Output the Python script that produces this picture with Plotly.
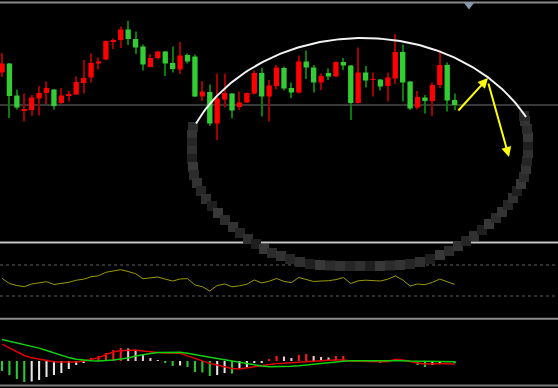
import math
import plotly.graph_objects as go

W, H = 558, 388

# ---------------- data ----------------
opens = [10.63, 10.81, 10.17, 9.87, 9.88, 10.11, 10.22, 10.29, 10.02, 10.17,
         10.19, 10.42, 10.53, 10.81, 10.89, 11.25, 11.28, 11.49, 11.30, 11.15,
         10.74, 10.92, 11.05, 10.82, 10.69, 10.98, 10.95, 10.15, 10.24, 9.61,
         10.09, 10.21, 9.94, 10.03, 10.21, 10.62, 10.15, 10.36, 10.72, 10.32,
         10.23, 10.85, 10.73, 10.43, 10.62, 10.55, 10.84, 10.77, 10.02, 10.63,
         10.48, 10.49, 10.36, 10.51, 11.04, 10.45, 9.93, 10.13, 10.06, 10.38,
         10.78, 10.08]
highs = [11.02, 10.82, 10.29, 10.21, 10.18, 10.36, 10.45, 10.30, 10.32, 10.26,
         10.55, 10.88, 11.01, 10.93, 11.27, 11.31, 11.55, 11.66, 11.45, 11.19,
         11.00, 11.06, 11.06, 11.15, 11.24, 11.01, 10.99, 10.46, 10.39, 10.61,
         10.61, 10.22, 10.25, 10.23, 10.67, 10.72, 10.48, 10.78, 10.75, 10.43,
         10.97, 11.07, 10.78, 10.61, 10.71, 10.85, 10.92, 10.78, 11.13, 10.76,
         10.63, 10.50, 10.63, 11.40, 11.19, 10.46, 10.26, 10.18, 10.43, 11.08,
         10.83, 10.21]
lows = [10.54, 9.72, 9.89, 9.65, 9.76, 9.77, 10.00, 9.89, 10.00, 10.05,
        10.18, 10.21, 10.43, 10.69, 10.88, 11.10, 11.12, 11.18, 11.00, 10.67,
        10.73, 10.89, 10.56, 10.63, 10.60, 10.81, 10.14, 10.06, 9.56, 9.28,
        9.93, 9.71, 9.88, 10.02, 10.19, 9.75, 9.65, 10.29, 10.27, 10.12,
        10.21, 10.50, 10.23, 10.28, 10.48, 10.54, 10.68, 9.68, 10.01, 10.33,
        10.15, 10.27, 10.05, 10.40, 10.05, 9.88, 9.89, 9.81, 9.76, 10.32,
        9.85, 9.88]
closes = [10.81, 10.16, 9.93, 9.89, 10.13, 10.22, 10.32, 9.96, 10.17, 10.20,
          10.44, 10.52, 10.82, 10.85, 11.26, 11.28, 11.49, 11.30, 11.13, 10.79,
          10.92, 11.05, 10.81, 10.70, 10.97, 10.85, 10.15, 10.25, 9.61, 10.11,
          10.22, 9.87, 10.03, 10.22, 10.62, 10.15, 10.37, 10.73, 10.31, 10.23,
          10.85, 10.73, 10.43, 10.56, 10.55, 10.84, 10.77, 10.02, 10.63, 10.47,
          10.50, 10.35, 10.53, 11.04, 10.43, 9.91, 10.14, 10.06, 10.38, 10.78,
          10.07, 9.98]
ref_price = 9.98

osc = [54.3, 44.2, 40.3, 38.0, 43.2, 46.1, 47.7, 42.3, 44.6, 46.5,
       50.6, 52.5, 57.2, 59.1, 65.9, 68.2, 70.9, 67.4, 63.2, 53.5,
       54.8, 56.8, 52.7, 49.0, 52.9, 53.7, 41.3, 38.0, 29.7, 40.3,
       43.2, 37.8, 39.7, 42.8, 51.0, 45.2, 48.6, 53.9, 48.3, 45.9,
       55.8, 52.3, 48.1, 49.0, 49.6, 51.7, 55.8, 44.2, 49.4, 50.6,
       49.2, 49.0, 52.5, 58.9, 51.0, 39.4, 43.2, 41.9, 46.3, 52.9,
       47.5, 42.5]
osc_levels = [80, 20]

dif = [0.168, 0.13, 0.095, 0.055, 0.032, 0.018, 0.005, -0.007, -0.011, -0.013,
       -0.01, 0.0, 0.012, 0.034, 0.06, 0.093, 0.103, 0.11, 0.11, 0.10,
       0.09, 0.085, 0.081, 0.079, 0.077, 0.051, 0.025, -0.003, -0.024, -0.041,
       -0.06, -0.074, -0.08, -0.068, -0.056, -0.043, -0.03, -0.025, -0.023, -0.017,
       -0.012, -0.005, 0.0, 0.003, 0.007, 0.01, 0.01, 0.0, -0.003, -0.006,
       -0.007, -0.007, -0.007, 0.017, 0.01, -0.008, -0.021, -0.029, -0.026, -0.023,
       -0.024, -0.033]
dea = [0.216, 0.20, 0.184, 0.166, 0.148, 0.129, 0.105, 0.08, 0.056, 0.034,
       0.017, 0.007, 0.002, 0.0, 0.004, 0.01, 0.02, 0.03, 0.049, 0.064,
       0.074, 0.084, 0.087, 0.087, 0.087, 0.078, 0.067, 0.052, 0.038, 0.026,
       0.013, 0.0, -0.016, -0.029, -0.041, -0.051, -0.057, -0.057, -0.057, -0.052,
       -0.048, -0.04, -0.03, -0.022, -0.015, -0.008, -0.003, 0.002, 0.003, 0.003,
       0.003, 0.003, 0.003, 0.003, 0.003, -0.001, -0.003, -0.005, -0.007, -0.007,
       -0.007, -0.007]
hist = [-0.10, -0.14, -0.18, -0.21, -0.205, -0.19, -0.16, -0.14, -0.12, -0.08,
        -0.04, -0.015, 0.03, 0.05, 0.08, 0.11, 0.13, 0.125, 0.11, 0.06,
        0.03, 0.01, -0.02, -0.05, -0.045, -0.06, -0.11, -0.115, -0.15, -0.14,
        -0.12, -0.125, -0.075, -0.065, -0.02, -0.015, 0.02, 0.05, 0.045, 0.03,
        0.06, 0.07, 0.05, 0.04, 0.035, 0.05, 0.05, 0.005, 0.003, 0.002,
        -0.01, -0.015, -0.01, 0.015, 0.01, -0.005, -0.04, -0.06, -0.04, -0.015,
        -0.01, -0.025]

# ---------------- styles / layout constants ----------------
BG = "#000000"
UP_BODY, UP_WICK = "#ff0000", "#a00000"
DN_BODY, DN_WICK = "#33cc33", "#0a7a0a"
n = len(opens)
idx = list(range(n))

X_RANGE = [-0.27, 74.93]


def dom(top_px, bot_px):
    return [(H - bot_px) / H, (H - top_px) / H]


def py(px):
    return 1 - px / H


up = [c >= o for o, c in zip(opens, closes)]

fig = go.Figure()

# candles: wicks + bodies
fig.add_trace(go.Bar(
    x=idx, base=lows, y=[h - l for h, l in zip(highs, lows)], width=0.15,
    marker=dict(color=[UP_WICK if u else DN_WICK for u in up], line=dict(width=0)),
    xaxis="x", yaxis="y", hoverinfo="skip"))
fig.add_trace(go.Bar(
    x=idx, base=[min(o, c) for o, c in zip(opens, closes)],
    y=[max(abs(c - o), 0.02) for o, c in zip(opens, closes)], width=0.72,
    marker=dict(color=[UP_BODY if u else DN_BODY for u in up], line=dict(width=0)),
    xaxis="x", yaxis="y", hoverinfo="skip"))

# oscillator
fig.add_trace(go.Scatter(x=idx, y=osc, mode="lines",
                         line=dict(color="#9a9a00", width=1),
                         xaxis="x", yaxis="y2", hoverinfo="skip"))

# MACD histogram colours from the sequence
hcol = []
for i, v in enumerate(hist):
    prev = hist[i - 1] if i > 0 else v
    if v >= 0:
        hcol.append("#ff1a1a" if v >= prev else "#f2c4cc")
    else:
        hcol.append("#2ec82e" if v <= prev else "#e6e6e6")
fig.add_trace(go.Bar(x=idx, y=hist, width=0.28,
                     marker=dict(color=hcol, line=dict(width=0)),
                     xaxis="x", yaxis="y3", hoverinfo="skip"))
fig.add_trace(go.Scatter(x=idx, y=dif, mode="lines",
                         line=dict(color="#e00000", width=1.5),
                         xaxis="x", yaxis="y3", hoverinfo="skip"))
fig.add_trace(go.Scatter(x=idx, y=dea, mode="lines",
                         line=dict(color="#10d010", width=1.5),
                         xaxis="x", yaxis="y3", hoverinfo="skip"))

# ---------------- hand-drawn marks (pixel overlay) ----------------
# dark pixelated loop
loop_pts = [(193, 127), (192, 135), (192, 143), (192, 151), (192, 159), (193, 167),
            (194, 175), (197, 183), (201, 191), (206, 199), (212, 206), (218, 213),
            (225, 220), (233, 227), (240, 233), (248, 239), (256, 244), (264, 249),
            (272, 253), (281, 256), (290, 259), (300, 262), (310, 264), (320, 265),
            (330, 265.5), (340, 266), (350, 266), (360, 266), (370, 266), (380, 266),
            (390, 265.5), (400, 265), (410, 264), (420, 262), (430, 259), (440, 255),
            (449, 251), (458, 246), (466, 241), (474, 236), (482, 230), (489, 224),
            (496, 218), (502, 212), (508, 205), (513, 198), (517, 191), (521, 184),
            (524, 177), (526, 169), (527, 161), (528, 153), (528, 145), (528, 137),
            (527, 129), (525, 121), (524, 116)]
shades = ["#2c2c2c", "#333333", "#262626", "#303030", "#1f1f1f", "#383838"]
fig.add_trace(go.Scatter(
    x=[p[0] for p in loop_pts], y=[p[1] for p in loop_pts], mode="markers",
    marker=dict(symbol="square", size=10,
                color=[shades[i % len(shades)] for i in range(len(loop_pts))],
                line=dict(width=0)),
    xaxis="x2", yaxis="y4", hoverinfo="skip"))

# white arc (upper part of an ellipse)
cx, cy, rx, ry = 363, 188, 185, 150
ax_pts = list(range(196, 527, 2))
arc_y = [cy - ry * math.sqrt(max(0.0, 1 - ((x - cx) / rx) ** 2)) for x in ax_pts]
fig.add_trace(go.Scatter(x=ax_pts, y=arc_y, mode="lines",
                         line=dict(color="#f2f2f2", width=2),
                         xaxis="x2", yaxis="y4", hoverinfo="skip"))

# little marker at top
fig.add_trace(go.Scatter(x=[469], y=[5], mode="markers",
                         marker=dict(symbol="triangle-down", size=9, color="#8596ad"),
                         xaxis="x2", yaxis="y4", hoverinfo="skip"))

# ---------------- separators ----------------
shapes = []
for ypx, col, wd, dash in [(2.5, "#8a8a8a", 2, "solid"), (242.5, "#c4c4c4", 2, "solid"),
                           (265, "#5e5e5e", 1, "dot"), (296, "#5e5e5e", 1, "dot"),
                           (318.8, "#8a8a8a", 2, "solid"), (385.5, "#7a7a7a", 2, "solid")]:
    shapes.append(dict(type="line", xref="paper", yref="paper", x0=0, x1=1,
                       y0=py(ypx), y1=py(ypx), layer="below",
                       line=dict(color=col, width=wd, dash=dash)))
shapes.append(dict(type="line", xref="paper", yref="y", x0=0, x1=1,
                   y0=ref_price, y1=ref_price, layer="below",
                   line=dict(color="#383838", width=2)))

annotations = [
    dict(x=488, y=78, ax=457, ay=112, xref="x2", yref="y4", axref="x2", ayref="y4",
         text="", showarrow=True, arrowhead=2, arrowsize=1.0, arrowwidth=2,
         arrowcolor="#ffff00"),
    dict(x=509, y=157, ax=488, ay=82, xref="x2", yref="y4", axref="x2", ayref="y4",
         text="", showarrow=True, arrowhead=2, arrowsize=1.0, arrowwidth=2,
         arrowcolor="#ffff00"),
]

# axis ranges derived from pixel layout
main_top, main_bot = 4, 241
p_per_px = 0.02
ref_px = 105
main_range = [ref_price - (main_bot - ref_px) * p_per_px, ref_price + (ref_px - main_top) * p_per_px]
osc_top, osc_bot = 244, 317
o_per_px = (osc_levels[0] - osc_levels[1]) / (296 - 265)
osc_range = [osc_levels[1] - (osc_bot - 296) * o_per_px, osc_levels[0] + (265 - osc_top) * o_per_px]
m_top, m_bot, m_zero = 320, 384, 361
m_per_px = 0.01
macd_range = [-(m_bot - m_zero) * m_per_px, (m_zero - m_top) * m_per_px]

hidden = dict(visible=False, showgrid=False, zeroline=False, fixedrange=True)
fig.update_layout(
    width=W, height=H, margin=dict(l=0, r=0, t=0, b=0, pad=0),
    paper_bgcolor=BG, plot_bgcolor="rgba(0,0,0,0)",
    showlegend=False, barmode="overlay", hovermode=False,
    xaxis=dict(range=X_RANGE, domain=[0, 1], anchor="y", **hidden),
    yaxis=dict(range=main_range, domain=dom(main_top, main_bot), anchor="x", **hidden),
    yaxis2=dict(range=osc_range, domain=dom(osc_top, osc_bot), anchor="x", **hidden),
    yaxis3=dict(range=macd_range, domain=dom(m_top, m_bot), anchor="x", **hidden),
    xaxis2=dict(range=[0, W], domain=[0, 1], anchor="y4", **hidden),
    yaxis4=dict(range=[H, 0], domain=[0, 1], anchor="x2", **hidden),
    shapes=shapes, annotations=annotations,
)

fig.write_html("out.html", config={"displayModeBar": False})
